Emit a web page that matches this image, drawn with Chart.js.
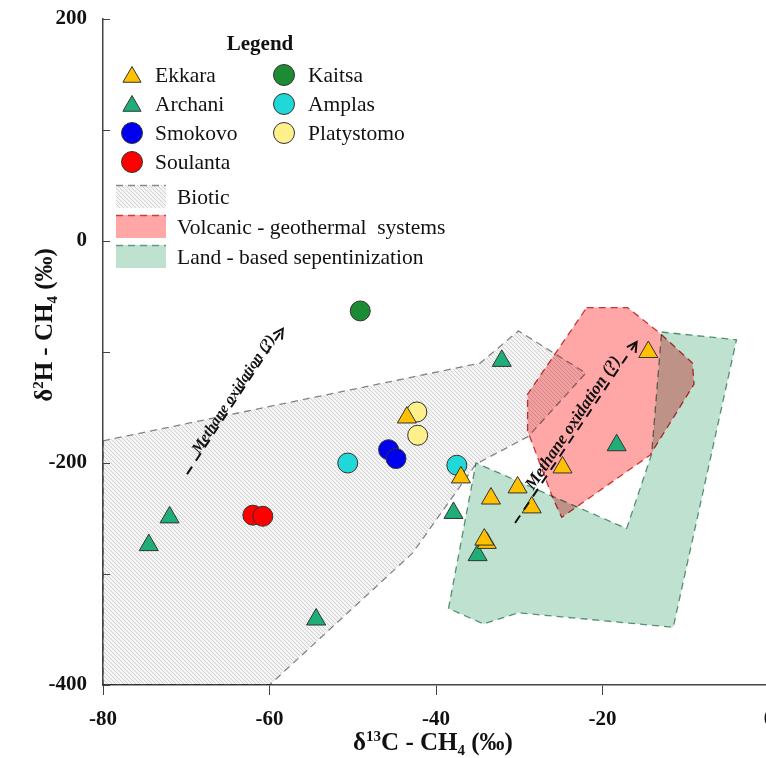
<!DOCTYPE html>
<html>
<head>
<meta charset="utf-8">
<script src="https://cdn.jsdelivr.net/npm/chart.js@4.4.0/dist/chart.umd.min.js"></script>
<style>
  html, body { margin: 0; padding: 0; background: #fff; overflow: hidden; }
  #wrap { width: 781px; height: 758px; }
</style>
</head>
<body>
<div id="wrap"><canvas id="chart" width="781" height="758"></canvas></div>
<script>
// samples, [d13C, d2H]
const ekkara = [[-14.5,-100],[-24.8,-204],[-30.2,-222],[-33.4,-232],[-28.5,-240],[-33.9,-272],[-34.2,-269],[-37.0,-213],[-43.5,-159]];
const archani = [[-72,-249],[-74.5,-274],[-54.4,-341],[-37.9,-245],[-35.0,-283],[-32.1,-108],[-18.3,-184]];
const smokovo = [[-45.7,-188],[-44.8,-196]];
const soulanta = [[-62,-247],[-60.8,-248]];
const kaitsa = [[-49.1,-63]];
const amplas = [[-50.6,-200],[-37.5,-202]];
const platystomo = [[-42.3,-154],[-42.2,-175]];

// genetic fields
const bioticZone = [[-80,-180],[-34.7,-110],[-32,-93],[-30.1,-81],[-22,-119],[-28.9,-176],[-35.2,-201],[-42.8,-281],[-60,-400],[-80,-400]];
const volcanicZone = [[-21.9,-60],[-17,-60],[-13.1,-83],[-9.2,-110],[-9,-129],[-14.3,-193],[-24.9,-249],[-26,-231],[-29,-171],[-29,-138]];
const serpZone = [[-12.9,-82],[-3.9,-89],[-11.5,-348],[-30.1,-335],[-34.3,-345],[-38.5,-331],[-35.2,-200],[-17.1,-259],[-14.1,-192]];

// methane oxidation arrows: x1, y1, x2, y2
const oxidationArrows = [[-69.9,-210,-58.4,-79],[-30.5,-254,-15.9,-91]];
const arrowLabel = 'Methane oxidation (?)';

const xTicks = [-80, -60, -40, -20, 0];
const yTicks = [-400, -200, 0, 200];
const xTitle = [['δ'], ['13', 'sup'], ['C - CH'], ['4', 'sub'], [' (‰)']];
const yTitle = [['δ'], ['2', 'sup'], ['H - CH'], ['4', 'sub'], [' (‰)']];

const SERIF = '"Liberation Serif", "Times New Roman", serif';

const series = [
  { name: 'Ekkara', pts: ekkara, shape: 'triangle', color: '#ffc000' },
  { name: 'Archani', pts: archani, shape: 'triangle', color: '#1fae78' },
  { name: 'Smokovo', pts: smokovo, shape: 'circle', color: '#0000f0' },
  { name: 'Soulanta', pts: soulanta, shape: 'circle', color: '#ff0000' },
  { name: 'Kaitsa', pts: kaitsa, shape: 'circle', color: '#1b8c34' },
  { name: 'Amplas', pts: amplas, shape: 'circle', color: '#20d8d8' },
  { name: 'Platystomo', pts: platystomo, shape: 'circle', color: '#fff08c' }
];

function hatch() {
  const c = document.createElement('canvas');
  c.width = 4; c.height = 4;
  const g = c.getContext('2d');
  g.fillStyle = '#f4f4f4';
  g.fillRect(0, 0, 4, 4);
  g.strokeStyle = '#d2d2d2';
  g.lineWidth = 1;
  g.beginPath();
  g.moveTo(-1, -1); g.lineTo(5, 5);
  g.moveTo(-1, 3); g.lineTo(1, 5);
  g.moveTo(3, -1); g.lineTo(5, 1);
  g.stroke();
  return g.createPattern(c, 'repeat');
}
const hatchFill = hatch();

const zones = [
  { name: 'Biotic', pts: bioticZone, fill: hatchFill, edge: '#8a8a8a', order: 3 },
  { name: 'Volcanic - geothermal  systems', pts: volcanicZone, fill: '#ffa6a6', edge: '#d23a3a', order: 1 },
  { name: 'Land - based sepentinization', pts: serpZone, fill: '#bee1d0', edge: '#5f9a7c', order: 2 }
];

const toXY = pts => pts.map(p => ({ x: p[0], y: p[1] }));

const datasets = [];
series.forEach(s => {
  datasets.push({
    label: s.name,
    data: toXY(s.pts),
    pointStyle: s.shape,
    pointRadius: s.shape === 'triangle' ? 11 : 10,
    pointBackgroundColor: s.color,
    pointBorderColor: '#333',
    pointBorderWidth: 1,
    order: 0
  });
});
zones.forEach(z => {
  datasets.push({
    type: 'line',
    label: z.name,
    data: toXY(z.pts.concat([z.pts[0]])),
    backgroundColor: z.fill,
    borderColor: z.edge,
    borderWidth: 1.3,
    borderDash: [7, 5],
    fill: 'shape',
    tension: 0,
    pointRadius: 0,
    order: z.order,
    blend: true
  });
});

// polygons are multiplied onto what is below them
const blendPlugin = {
  id: 'blend',
  beforeDatasetDraw(chart, args) {
    if (chart.data.datasets[args.index].blend) {
      chart.ctx.save();
      chart.ctx.globalCompositeOperation = 'multiply';
    }
  },
  afterDatasetDraw(chart, args) {
    if (chart.data.datasets[args.index].blend) chart.ctx.restore();
  }
};
const filler = Chart.registry.getPlugin('filler');
Chart.unregister(filler);
Chart.register(blendPlugin);
Chart.register(filler);

function richText(ctx, parts, cx, base, size) {
  const big = 'bold ' + size + 'px ' + SERIF;
  const small = 'bold ' + Math.round(size * 0.6) + 'px ' + SERIF;
  let w = 0;
  parts.forEach(p => { ctx.font = p[1] ? small : big; w += ctx.measureText(p[0]).width; });
  let x = cx - w / 2;
  ctx.textAlign = 'left';
  ctx.textBaseline = 'alphabetic';
  parts.forEach(p => {
    ctx.font = p[1] ? small : big;
    const dy = p[1] === 'sup' ? -size * 0.38 : (p[1] === 'sub' ? size * 0.2 : 0);
    ctx.fillText(p[0], x, base + dy);
    x += ctx.measureText(p[0]).width;
  });
}

function marker(ctx, shape, x, y, r, color) {
  ctx.beginPath();
  if (shape === 'triangle') {
    ctx.moveTo(x, y - r);
    ctx.lineTo(x + r * 0.866, y + r * 0.5);
    ctx.lineTo(x - r * 0.866, y + r * 0.5);
    ctx.closePath();
  } else {
    ctx.arc(x, y, r, 0, Math.PI * 2);
  }
  ctx.fillStyle = color;
  ctx.fill();
  ctx.lineWidth = 1;
  ctx.strokeStyle = '#333';
  ctx.stroke();
}

const decorPlugin = {
  id: 'decor',
  afterDatasetsDraw(chart) {
    const ctx = chart.ctx;
    const xs = chart.scales.x, ys = chart.scales.y;
    // methane oxidation arrows
    oxidationArrows.forEach((a, i) => {
      const x1 = xs.getPixelForValue(a[0]), y1 = ys.getPixelForValue(a[1]);
      const x2 = xs.getPixelForValue(a[2]), y2 = ys.getPixelForValue(a[3]);
      const ang = Math.atan2(y2 - y1, x2 - x1);
      ctx.save();
      ctx.strokeStyle = '#111';
      ctx.lineWidth = 2;
      ctx.setLineDash([9, 7]);
      ctx.beginPath();
      ctx.moveTo(x1, y1);
      ctx.lineTo(x2, y2);
      ctx.stroke();
      ctx.setLineDash([]);
      ctx.beginPath();
      ctx.moveTo(x2 - 11 * Math.cos(ang - 0.5), y2 - 11 * Math.sin(ang - 0.5));
      ctx.lineTo(x2, y2);
      ctx.lineTo(x2 - 11 * Math.cos(ang + 0.5), y2 - 11 * Math.sin(ang + 0.5));
      ctx.stroke();
      const t = 0.53;
      ctx.translate(x1 + (x2 - x1) * t, y1 + (y2 - y1) * t);
      ctx.rotate(ang);
      ctx.font = 'italic bold ' + (i === 0 ? 15 : 17) + 'px ' + SERIF;
      ctx.fillStyle = '#111';
      ctx.textAlign = 'center';
      ctx.textBaseline = 'alphabetic';
      ctx.fillText(arrowLabel, 0, i === 0 ? -1 : -3);
      ctx.restore();
    });
  },
  afterDraw(chart) {
    const ctx = chart.ctx;
    const ys = chart.scales.y;
    const area = chart.chartArea;
    ctx.save();
    // inner ticks on the y axis
    ctx.strokeStyle = '#444';
    ctx.lineWidth = 1;
    for (let v = -400; v <= 200; v += 100) {
      const py = Math.round(ys.getPixelForValue(v)) + 0.5;
      ctx.beginPath();
      ctx.moveTo(area.left, py);
      ctx.lineTo(area.left + 7, py);
      ctx.stroke();
    }
    // axis titles
    ctx.fillStyle = '#111';
    richText(ctx, xTitle, 433, 750, 25);
    ctx.save();
    ctx.translate(44, 325);
    ctx.rotate(-Math.PI / 2);
    richText(ctx, yTitle, 0, 8, 25);
    ctx.restore();

    // legend
    ctx.font = 'bold 21px ' + SERIF;
    ctx.textAlign = 'center';
    ctx.textBaseline = 'middle';
    ctx.fillText('Legend', 260, 45);
    const rowsY = [75, 104, 133, 162];
    const cols = [{ m: 132, t: 155 }, { m: 284, t: 308 }];
    ctx.textAlign = 'left';
    series.forEach((s, i) => {
      const col = i < 4 ? cols[0] : cols[1];
      const y = rowsY[i < 4 ? i : i - 4];
      marker(ctx, s.shape, col.m, s.shape === 'triangle' ? y + 2 : y, 10.5, s.color);
      ctx.font = '21.5px ' + SERIF;
      ctx.fillStyle = '#111';
      ctx.fillText(s.name, col.t, y + 1);
    });
    const patchY = [185, 215, 245];
    zones.forEach((z, i) => {
      const y = patchY[i];
      ctx.fillStyle = z.fill;
      ctx.fillRect(116, y, 50, 23);
      ctx.strokeStyle = z.edge;
      ctx.lineWidth = 1.5;
      ctx.setLineDash([7, 5]);
      ctx.beginPath();
      ctx.moveTo(116, y + 0.5);
      ctx.lineTo(166, y + 0.5);
      ctx.stroke();
      ctx.setLineDash([]);
      ctx.font = '21.5px ' + SERIF;
      ctx.fillStyle = '#111';
      ctx.fillText(z.name, 177, y + 13);
    });
    ctx.restore();
  }
};

new Chart(document.getElementById('chart'), {
  type: 'scatter',
  data: { datasets: datasets },
  options: {
    responsive: false,
    animation: false,
    layout: { padding: { top: 19, right: 2, left: 0, bottom: 0 } },
    plugins: {
      legend: { display: false },
      tooltip: { enabled: false },
      filler: { drawTime: 'beforeDatasetDraw' }
    },
    scales: {
      x: {
        type: 'linear',
        min: -80,
        max: 0,
        afterBuildTicks: s => { s.ticks = xTicks.map(v => ({ value: v })); },
        afterFit: s => { s.height = 73; s.paddingLeft = 0; s.paddingRight = 0; },
        ticks: {
          padding: 12,
          color: '#111',
          font: { family: SERIF, size: 21, weight: 'bold' }
        },
        grid: { drawOnChartArea: false, tickLength: 10, color: '#444', lineWidth: 1 },
        border: { display: true, color: '#444', width: 1.5 },
        title: { display: false }
      },
      y: {
        type: 'linear',
        min: -400,
        max: 200,
        afterBuildTicks: s => { s.ticks = yTicks.map(v => ({ value: v })); },
        afterFit: s => { s.width = 103; s.paddingTop = 0; s.paddingBottom = 0; },
        ticks: {
          padding: 16,
          color: '#111',
          font: { family: SERIF, size: 21, weight: 'bold' }
        },
        grid: { drawOnChartArea: false, drawTicks: false },
        border: { display: true, color: '#444', width: 1.5 },
        title: { display: false }
      }
    }
  },
  plugins: [decorPlugin]
});
</script>
</body>
</html>
